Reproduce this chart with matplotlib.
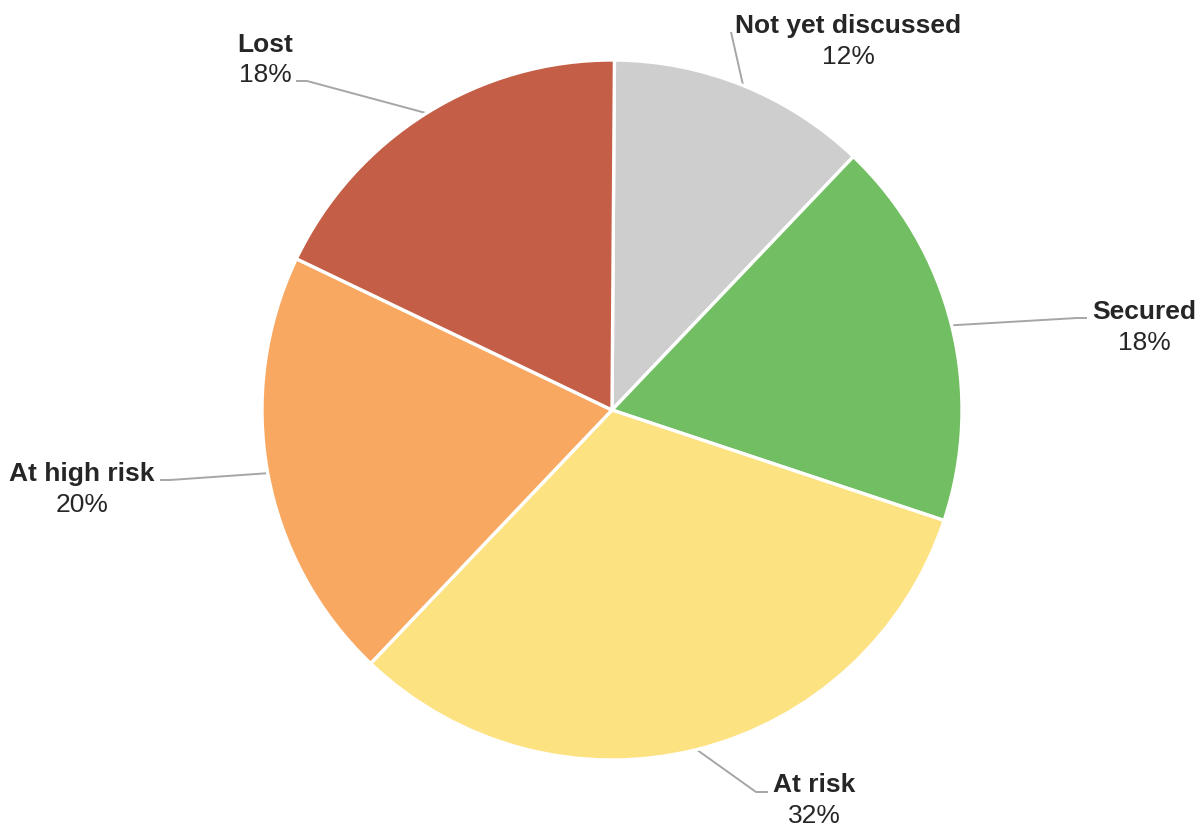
import numpy as np
import matplotlib.pyplot as plt

plt.rcParams['font.family'] = ['Liberation Sans', 'DejaVu Sans']

labels = ['Not yet discussed', 'Secured', 'At risk', 'At high risk', 'Lost']
shares = [12, 18, 32, 20, 18]
colors = ['#cecece', '#72bf63', '#fce281', '#f9a862', '#c45e46']

W, H = 1202, 828
cx, cy, r = 612, 411, 350

# label layout in pixel coords: (text x, bold baseline, pct baseline, elbow points)
label_pos = {
    'Not yet discussed': (848, 33, 64, [(731, 33)]),
    'Secured': (1144, 319, 350, [(1077, 319), (1087, 319)]),
    'At risk': (814, 792, 823, [(756, 793), (768, 793)]),
    'At high risk': (82, 481, 512, [(170, 481), (160, 481)]),
    'Lost': (265, 52, 82, [(307, 82), (296, 82)]),
}

def Y(y):
    return H - y

fig = plt.figure(figsize=(12.02, 8.28), dpi=100)
ax = fig.add_axes([0, 0, 1, 1])
wedges, _ = ax.pie(shares, colors=colors, startangle=89.6, counterclock=False,
                   center=(cx, Y(cy)), radius=r,
                   wedgeprops=dict(edgecolor='white', linewidth=2.4))
ax.set_xlim(0, W)
ax.set_ylim(0, H)
ax.set_aspect('equal')
ax.axis('off')

for w, name, val in zip(wedges, labels, shares):
    mid = np.deg2rad((w.theta1 + w.theta2) / 2)
    x0 = cx + r * np.cos(mid)
    y0 = cy - r * np.sin(mid)
    tx, b1, b2, pts = label_pos[name]
    xs = [x0] + [p[0] for p in pts]
    ys = [Y(y0)] + [Y(p[1]) for p in pts]
    ax.plot(xs, ys, color='#a6a6a6', lw=1.4, solid_capstyle='butt', zorder=0)
    ax.text(tx, Y(b1), name, ha='center', va='baseline', fontsize=19,
            fontweight='bold', color='#262626')
    ax.text(tx, Y(b2), '%d%%' % val, ha='center', va='baseline', fontsize=19,
            color='#262626')

fig.savefig('out.png', dpi=100)
